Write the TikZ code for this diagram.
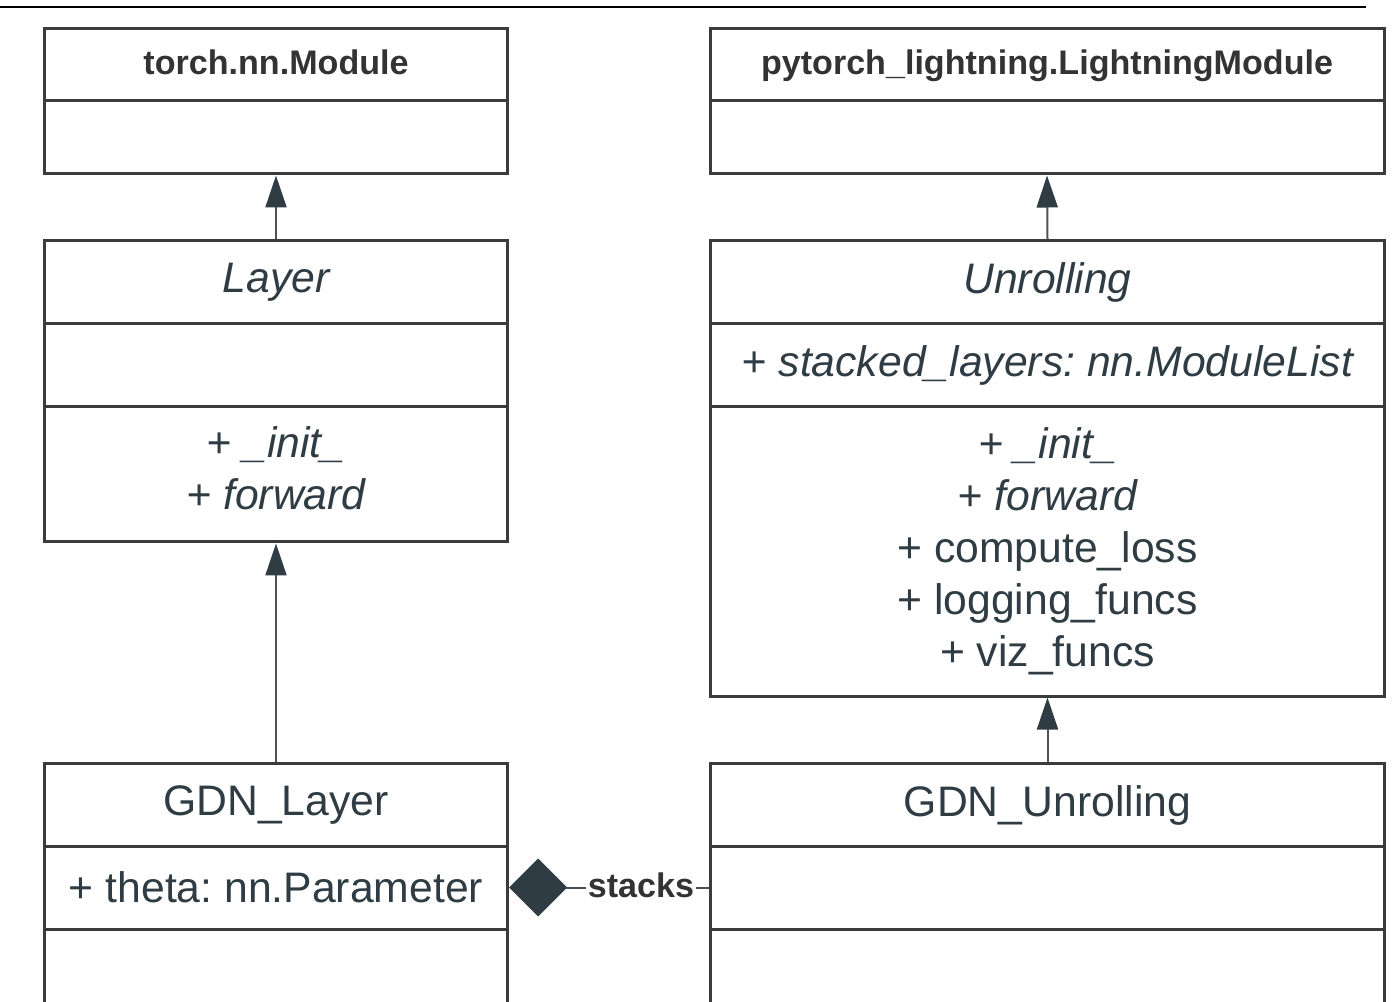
\documentclass[tikz,border=0pt]{standalone}
\usepackage{fontspec}
\setmainfont{Liberation Sans}
\frenchspacing
\usetikzlibrary{arrows.meta}
\definecolor{boxgray}{HTML}{3B3B3B}
\definecolor{slate}{HTML}{2F3C44}
\definecolor{linkgray}{HTML}{4A5257}
\definecolor{headgray}{HTML}{333333}
\tikzset{
  compartment/.style = {
    draw=boxgray,
    line width=0.6mm,
    text=slate,
    align=center,
    inner sep=0pt,
    font=\fontsize{24.3}{29.6}\selectfont
  },
  leftcol/.style = {compartment, minimum width=92.6mm},
  rightcol/.style = {compartment, minimum width=134.8mm},
  headtitle/.style = {
    font=\fontsize{19.4}{23}\selectfont\bfseries,
    text=headgray,
    text depth=0.3em
  },
  inherit/.style = {
    draw=linkgray,
    line width=0.4mm,
    -{Triangle[length=6.4mm, width=4.2mm, color=slate]}
  },
  compose/.style = {
    draw=linkgray,
    line width=0.4mm,
    {Diamond[length=11.6mm, width=11.6mm, color=slate]}-
  }
}

\begin{document}
\begin{tikzpicture}[x=0.2mm, y=-0.2mm]

      \useasboundingbox (0,0) rectangle (1397,1002);
      \clip (0,0) rectangle (1397,1002);

      % page rule
      \draw[line width=0.5mm] (0,7) -- (1366,7);

      % left column
      \node[leftcol, minimum height=14.4mm, headtitle] (module) at (276,65) {torch.nn.Module};
      \node[leftcol, minimum height=14.6mm] (moduleattr) at (276,137.5) {};

      \node[leftcol, minimum height=16.6mm] (layer) at (276,282.5) {\itshape Layer};
      \node[leftcol, minimum height=16.6mm] (layerattr) at (276,365.5) {};
      \node[leftcol, minimum height=27mm] (layermeth) at (276,474.5) {\itshape + \_init\_\\\itshape + forward\\[-0.9em]};

      \node[leftcol, minimum height=16.4mm] (gdnlayer) at (276,805) {GDN\_Layer};
      \node[leftcol, minimum height=16.6mm] (gdnlayerattr) at (276,887.5) {+ theta: nn.Parameter};
      \node[leftcol, minimum height=26.2mm] (gdnlayermeth) at (276,994.5) {};

      % right column
      \node[rightcol, minimum height=14.4mm, headtitle] (lightning) at (1047,65) {pytorch\_lightning.LightningModule};
      \node[rightcol, minimum height=14.6mm] (lightningattr) at (1047,137.5) {};

      \node[rightcol, minimum height=16.6mm] (unrolling) at (1047.5,282.5) {\itshape Unrolling};
      \node[rightcol, minimum height=16.6mm] (unrollingattr) at (1047.5,365.5) {\itshape + stacked\_layers: nn.ModuleList};
      \node[rightcol, minimum height=57.8mm] (unrollingmeth) at (1047.5,551.5)
        {\itshape + \_init\_\\\itshape + forward\\+ compute\_loss\\+ logging\_funcs\\+ viz\_funcs};

      \node[rightcol, minimum height=16.4mm] (gdnunrolling) at (1047.5,805) {GDN\_Unrolling};
      \node[rightcol, minimum height=16.6mm] (gdnunrollingattr) at (1047.5,887.5) {};
      \node[rightcol, minimum height=26.2mm] (gdnunrollingmeth) at (1047.5,994.5) {};

      % inheritance
      \draw[inherit] (layer.north) -- (moduleattr.south);
      \draw[inherit] (gdnlayer.north) -- (layermeth.south);
      \draw[inherit] (unrolling.north) -- (lightningattr.south);
      \draw[inherit] (gdnunrolling.north) -- (unrollingmeth.south);

      % composition
      \draw[compose] (gdnlayerattr.east) -- (gdnunrollingattr.west)
        node[pos=0.66, fill=white, inner sep=1pt, headtitle] (stacks) {stacks};
    \end{tikzpicture}
\end{document}
